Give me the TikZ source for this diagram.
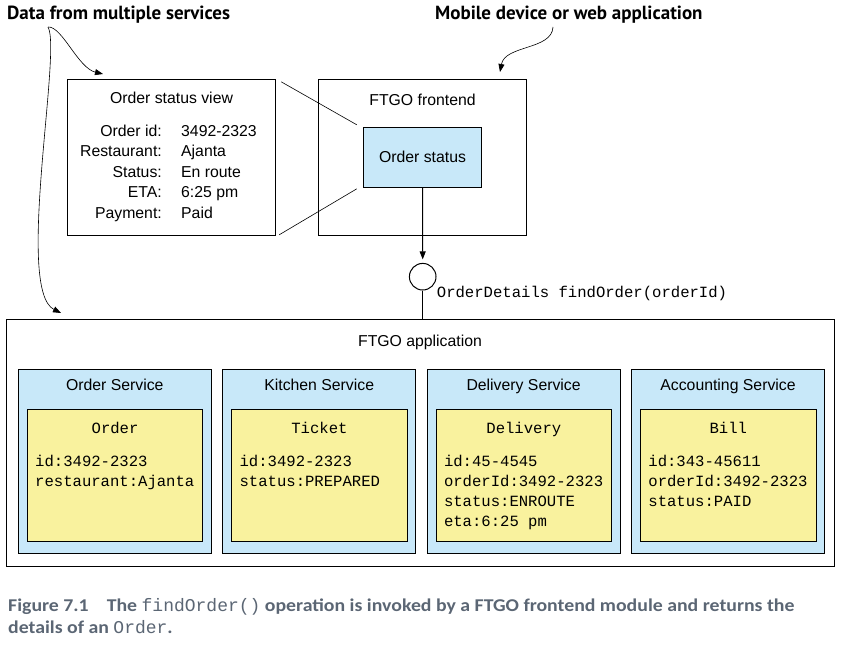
\documentclass[tikz,border=0pt]{standalone}
\usepackage{fontspec}
\setmainfont{Liberation Sans}
\setmonofont{Liberation Mono}
\newfontfamily\hdrfont{PT Sans}
\newfontfamily\capfont{Carlito}[FakeStretch=1.1]
\usepackage{tikz}
\usetikzlibrary{arrows.meta}
\definecolor{svccolor}{HTML}{C8E8F9}
\definecolor{entcolor}{HTML}{F9F29E}
\definecolor{capcolor}{HTML}{5B6674}

\begin{document}
\begin{tikzpicture}[x=1pt, y=-1pt]

    \tikzset{%
        box/.style={draw, line width=1pt, inner sep=0pt},
        svcbox/.style={box, fill=svccolor, minimum width=193pt, minimum height=184pt},
        entbox/.style={box, fill=entcolor, minimum width=175.5pt, minimum height=132.3pt},
        lbl/.style={font=\fontsize{15.8}{19}\selectfont, anchor=base, inner sep=0pt},
        mono/.style={font=\ttfamily\fontsize{15.6}{19}\selectfont, anchor=base west, inner sep=0pt},
        hdr/.style={font=\hdrfont\bfseries\fontsize{19}{22}\selectfont, anchor=base west, inner sep=0pt},
        capnote/.style={font=\capfont\bfseries\fontsize{18}{21}\selectfont, text=capcolor, anchor=base west, inner sep=0pt},
        arr/.style={-{Triangle[length=8pt, width=6pt]}},
        note/.style={arr, line width=0.6pt},
    }

    \useasboundingbox (0,0) rectangle (842,645);

    \node[hdr] (datahdr) at (7,19.3) {Data from multiple services};
    \node[hdr] (mobilehdr) at (435,19) {Mobile device or web application};

    % order status view
    \node[box, minimum width=208.4pt, minimum height=156pt] (view) at (171.5,157.3) {};
    \node[lbl] (viewtitle) at (171.5,103.3) {Order status view};
    \foreach \y/\k/\v in {136/Order id:/3492-2323, 156.5/Restaurant:/Ajanta, 177/Status:/En route, 197.5/ETA:/6:25 pm, 218/Payment:/Paid} {
            \node[lbl, anchor=base east] at (162,\y) {\k};
            \node[lbl, anchor=base west] at (181,\y) {\v};
        }

    % frontend
    \node[box, minimum width=208.4pt, minimum height=155.7pt] (frontend) at (422.5,157.2) {};
    \node[lbl] (fronttitle) at (422.5,105) {FTGO frontend};
    \node[box, fill=svccolor, minimum width=118.4pt, minimum height=60pt, font=\fontsize{15.8}{19}\selectfont] (status) at (422.5,157.3) {Order status};

    \draw[line width=0.6pt] ([shift={(5,3)}]view.north east) -- ([shift={(-6,-2)}]status.north west);
    \draw[line width=0.6pt] ([shift={(3,-1)}]view.south east) -- ([shift={(-6,1)}]status.south west);

    \node[draw, circle, line width=1pt, minimum size=26.6pt, inner sep=0pt] (iface) at (422.7,276.7) {};
    \draw[arr, line width=1pt, shorten >=3.5pt] (status.south) -- (iface.north);
    \node[mono] (sig) at (436.7,297) {OrderDetails findOrder(orderId)};

    % application
    \node[box, minimum width=828pt, minimum height=247.4pt] (app) at (420,443) {};
    \draw[line width=1pt] (iface.south) -- (iface.south |- app.north);
    \node[lbl] (apptitle) at (app.north |- 0,346) {FTGO application};

    \foreach \i/\svc/\ent/\rows in {%
            0/Order Service/Order/{id:3492-2323,restaurant:Ajanta},
            1/Kitchen Service/Ticket/{id:3492-2323,status:PREPARED},
            2/Delivery Service/Delivery/{id:45-4545,orderId:3492-2323,status:ENROUTE,eta:6:25 pm},
            3/Accounting Service/Bill/{id:343-45611,orderId:3492-2323,status:PAID}} {%
            \pgfmathsetmacro\xl{18.3+\i*204.4}
            \node[svcbox] (svc\i) at (\xl+96.5,461.3) {};
            \node[lbl] at (\xl+96.5,390.7) {\svc};
            \node[entbox] (ent\i) at (\xl+96.75,475.4) {};
            \node[mono, anchor=base] at (\xl+96.75,433) {\ent};
            \foreach \r [count=\n] in \rows {
                    \node[mono] at (\xl+16.7,{466+(\n-1)*20.3}) {\r};
                }
        }

    % annotation arrows
    \coordinate (dsrc) at (48,27);
    \coordinate (dviewtip) at (103,74);
    \coordinate (dapptip) at (61,313);
    \coordinate (msrc) at (553,27);
    \coordinate (mtip) at (500,72);
    \draw[note] (dsrc) .. controls (62,26) and (78,68) .. (dviewtip);
    \draw[note] (dsrc) .. controls (62,50) and (15,290) .. (dapptip);
    \draw[note] (msrc) .. controls (552,50) and (505,45) .. (mtip);

    \node[capnote] (cap1) at (8,611.7) {Figure 7.1\quad The {\ttfamily\mdseries\fontsize{18}{21}\selectfont findOrder()} operation is invoked by a FTGO frontend module and returns the};
    \node[capnote] (cap2) at (8,633) {details of an {\ttfamily\mdseries\fontsize{18}{21}\selectfont Order}.};

\end{tikzpicture}
\end{document}
